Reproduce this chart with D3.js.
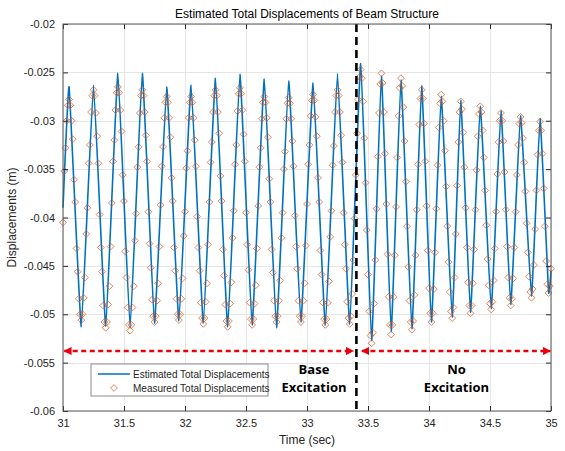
<!DOCTYPE html>
<html>
<head>
<meta charset="utf-8">
<script src="https://cdn.jsdelivr.net/npm/d3@7"></script>
<style>
  html, body { margin: 0; padding: 0; background: #fff; }
  svg { display: block; font-family: "Liberation Sans", Arial, sans-serif; }
</style>
</head>
<body>
<svg id="chart" width="565" height="451"></svg>
<script>
// ---- axis ticks ----
const xTicks = [31, 31.5, 32, 32.5, 33, 33.5, 34, 34.5, 35];
const xTickLabels = ["31", "31.5", "32", "32.5", "33", "33.5", "34", "34.5", "35"];
const yTicks = [-0.06, -0.055, -0.05, -0.045, -0.04, -0.035, -0.03, -0.025, -0.02];
const yTickLabels = ["-0.06", "-0.055", "-0.05", "-0.045", "-0.04", "-0.035", "-0.03", "-0.025", "-0.02"];

// ---- estimated total displacement: turning points of the estimate (s, m) ----
const estTimes = [31.00, 31.05, 31.15, 31.25, 31.35, 31.45, 31.55, 31.65, 31.75, 31.85, 31.95,
  32.05, 32.15, 32.25, 32.35, 32.45, 32.55, 32.65, 32.75, 32.85, 32.95, 33.05, 33.15, 33.25, 33.35,
  33.44, 33.53, 33.61, 33.69, 33.77, 33.86, 33.94, 34.02, 34.10, 34.19, 34.26, 34.34, 34.42, 34.51,
  34.59, 34.67, 34.75, 34.84, 34.91, 34.98, 35.00];
const estValues = [-0.0390, -0.0265, -0.0513, -0.0263, -0.0512, -0.0251, -0.0514, -0.0251, -0.0509, -0.0265, -0.0507,
  -0.0263, -0.0509, -0.0256, -0.0513, -0.0252, -0.0511, -0.0257, -0.0514, -0.0259, -0.0508, -0.0261, -0.0511, -0.0251, -0.0510,
  -0.0241, -0.0527, -0.0254, -0.0518, -0.0258, -0.0515, -0.0264, -0.0508, -0.0275, -0.0503, -0.0279, -0.0498, -0.0285, -0.0494,
  -0.0290, -0.0490, -0.0295, -0.0481, -0.0298, -0.0477, -0.0455];

// ---- measured total displacement, sampled every 0.01 s from 31.00 s ----
const sampleStart = 31.00;
const sampleStep = 0.01;
const measured = [
  -0.0405, -0.0352, -0.0328, -0.0300, -0.0284,
  -0.0278, -0.0284, -0.0300, -0.0319, -0.0361, -0.0384, -0.0432, -0.0456, -0.0484, -0.0500,
  -0.0506, -0.0500, -0.0483, -0.0462, -0.0417, -0.0390, -0.0344, -0.0325, -0.0291, -0.0274,
  -0.0268, -0.0274, -0.0292, -0.0316, -0.0344, -0.0397, -0.0431, -0.0456, -0.0491, -0.0508,
  -0.0514, -0.0508, -0.0490, -0.0471, -0.0430, -0.0385, -0.0342, -0.0320, -0.0289, -0.0271,
  -0.0265, -0.0271, -0.0289, -0.0311, -0.0356, -0.0383, -0.0435, -0.0462, -0.0493, -0.0511,
  -0.0517, -0.0511, -0.0493, -0.0471, -0.0424, -0.0396, -0.0348, -0.0327, -0.0292, -0.0274,
  -0.0268, -0.0274, -0.0291, -0.0315, -0.0342, -0.0394, -0.0427, -0.0452, -0.0485, -0.0502,
  -0.0508, -0.0502, -0.0486, -0.0468, -0.0430, -0.0387, -0.0347, -0.0327, -0.0297, -0.0281,
  -0.0275, -0.0281, -0.0297, -0.0317, -0.0359, -0.0383, -0.0431, -0.0455, -0.0484, -0.0500,
  -0.0506, -0.0500, -0.0484, -0.0463, -0.0419, -0.0394, -0.0349, -0.0331, -0.0297, -0.0281,
  -0.0275, -0.0281, -0.0297, -0.0320, -0.0347, -0.0399, -0.0431, -0.0455, -0.0488, -0.0504,
  -0.0510, -0.0504, -0.0487, -0.0468, -0.0428, -0.0384, -0.0343, -0.0322, -0.0291, -0.0274,
  -0.0268, -0.0274, -0.0291, -0.0313, -0.0357, -0.0383, -0.0433, -0.0460, -0.0490, -0.0507,
  -0.0513, -0.0507, -0.0489, -0.0467, -0.0421, -0.0393, -0.0345, -0.0325, -0.0290, -0.0272,
  -0.0266, -0.0272, -0.0289, -0.0314, -0.0342, -0.0395, -0.0428, -0.0454, -0.0488, -0.0505,
  -0.0511, -0.0505, -0.0489, -0.0470, -0.0432, -0.0388, -0.0348, -0.0328, -0.0298, -0.0281,
  -0.0275, -0.0281, -0.0297, -0.0317, -0.0360, -0.0384, -0.0433, -0.0457, -0.0486, -0.0502,
  -0.0508, -0.0502, -0.0486, -0.0465, -0.0421, -0.0395, -0.0350, -0.0332, -0.0298, -0.0282,
  -0.0276, -0.0282, -0.0298, -0.0321, -0.0347, -0.0398, -0.0430, -0.0453, -0.0486, -0.0502,
  -0.0508, -0.0502, -0.0486, -0.0468, -0.0429, -0.0386, -0.0345, -0.0325, -0.0295, -0.0279,
  -0.0273, -0.0279, -0.0296, -0.0316, -0.0359, -0.0384, -0.0434, -0.0459, -0.0488, -0.0505,
  -0.0511, -0.0505, -0.0488, -0.0466, -0.0420, -0.0393, -0.0346, -0.0326, -0.0291, -0.0274,
  -0.0268, -0.0274, -0.0291, -0.0315, -0.0343, -0.0395, -0.0428, -0.0453, -0.0487, -0.0504,
  -0.0510, -0.0502, -0.0479, -0.0444, -0.0401, -0.0356, -0.0313, -0.0278, -0.0255,
  -0.0247, -0.0256, -0.0280, -0.0318, -0.0364, -0.0413, -0.0459, -0.0497, -0.0522,
  -0.0530, -0.0519, -0.0489, -0.0444, -0.0391, -0.0337, -0.0292, -0.0262,
  -0.0251, -0.0261, -0.0291, -0.0334, -0.0386, -0.0438, -0.0482, -0.0511,
  -0.0521, -0.0511, -0.0482, -0.0439, -0.0389, -0.0338, -0.0295, -0.0266,
  -0.0256, -0.0264, -0.0286, -0.0321, -0.0363, -0.0409, -0.0451, -0.0486, -0.0508,
  -0.0516, -0.0507, -0.0480, -0.0439, -0.0392, -0.0345, -0.0304, -0.0277,
  -0.0268, -0.0277, -0.0303, -0.0342, -0.0388, -0.0434, -0.0473, -0.0499,
  -0.0508, -0.0499, -0.0474, -0.0436, -0.0391, -0.0346, -0.0307, -0.0282,
  -0.0273, -0.0280, -0.0300, -0.0331, -0.0368, -0.0409, -0.0446, -0.0477, -0.0497,
  -0.0504, -0.0493, -0.0462, -0.0417, -0.0367, -0.0322, -0.0291,
  -0.0280, -0.0288, -0.0312, -0.0348, -0.0390, -0.0431, -0.0467, -0.0491,
  -0.0499, -0.0491, -0.0468, -0.0433, -0.0392, -0.0351, -0.0316, -0.0293,
  -0.0285, -0.0291, -0.0310, -0.0338, -0.0372, -0.0408, -0.0443, -0.0470, -0.0489,
  -0.0495, -0.0487, -0.0465, -0.0432, -0.0394, -0.0355, -0.0322, -0.0300,
  -0.0292, -0.0300, -0.0321, -0.0353, -0.0392, -0.0430, -0.0462, -0.0483,
  -0.0491, -0.0484, -0.0463, -0.0431, -0.0394, -0.0356, -0.0325, -0.0303,
  -0.0296, -0.0302, -0.0318, -0.0343, -0.0373, -0.0406, -0.0436, -0.0461, -0.0477,
  -0.0483, -0.0474, -0.0449, -0.0412, -0.0372, -0.0335, -0.0310,
  -0.0301, -0.0310, -0.0334, -0.0370, -0.0409, -0.0445, -0.0469,
  -0.0478, -0.0471, -0.0453
];

// ---- annotations ----
const switchTime = 33.405;                    // excitation switched off
const arrowLevel = -0.0538;
const arrowSpans = [[31.01, 33.38], [33.45, 34.995]];
const regionLabels = [
  { t: 33.057, lines: ["Base", "Excitation"] },
  { t: 34.225, lines: ["No", "Excitation"] }
];
const seriesNames = ["Estimated Total Displacements", "Measured Total Displacements"];

// ---- layout ----
const svg = d3.select("#chart");
const x = d3.scaleLinear().domain([31, 35]).range([63, 551]);
const y = d3.scaleLinear().domain([-0.06, -0.02]).range([411, 24]);
const blue = "#0072BD", orange = "#D95319";
const axisColor = "#262626";

// grid
const grid = svg.append("g").attr("stroke", "#e6e6e6").attr("stroke-width", 1);
grid.selectAll(".gx").data(xTicks).join("line")
  .attr("x1", d => Math.round(x(d)) + 0.5).attr("x2", d => Math.round(x(d)) + 0.5)
  .attr("y1", y(-0.06)).attr("y2", y(-0.02));
grid.selectAll(".gy").data(yTicks).join("line")
  .attr("y1", d => Math.round(y(d)) + 0.5).attr("y2", d => Math.round(y(d)) + 0.5)
  .attr("x1", x(31)).attr("x2", x(35));

// estimated displacement line (sharp-tipped through the turning points)
const line = d3.line()
  .x((d, i) => x(estTimes[i]))
  .y(d => y(d))
  .curve(d3.curveCardinal.tension(0.7));
svg.append("path")
  .datum(estValues)
  .attr("d", line)
  .attr("fill", "none")
  .attr("stroke", blue)
  .attr("stroke-width", 1.6)
  .attr("stroke-linejoin", "round");

// measured displacement markers (hollow diamonds)
const diamond = {
  draw(ctx, size) {
    const r = Math.sqrt(size) / 2;
    ctx.moveTo(0, -r); ctx.lineTo(r, 0); ctx.lineTo(0, r); ctx.lineTo(-r, 0); ctx.closePath();
  }
};
const sym = d3.symbol().type(diamond).size(46);
svg.append("g")
  .selectAll("path")
  .data(measured)
  .join("path")
  .attr("d", sym)
  .attr("transform", (d, i) => `translate(${x(sampleStart + i * sampleStep)},${y(d)})`)
  .attr("fill", "none")
  .attr("stroke", orange)
  .attr("stroke-opacity", 0.8)
  .attr("stroke-width", 0.9);

// excitation switch-off line
svg.append("line")
  .attr("x1", x(switchTime)).attr("x2", x(switchTime))
  .attr("y1", y(-0.02)).attr("y2", y(-0.06))
  .attr("stroke", "#000").attr("stroke-width", 2.6)
  .attr("stroke-dasharray", "8,5");

// double-headed red arrows
const defs = svg.append("defs");
defs.append("marker").attr("id", "ah").attr("viewBox", "0 0 10 10")
  .attr("refX", 9).attr("refY", 5).attr("markerWidth", 3.4).attr("markerHeight", 3.4)
  .attr("markerUnits", "strokeWidth").attr("orient", "auto-start-reverse")
  .append("path").attr("d", "M0,0 L10,5 L0,10 Z").attr("fill", "#e8000b");
svg.append("g").selectAll("line").data(arrowSpans).join("line")
  .attr("x1", d => x(d[0])).attr("x2", d => x(d[1]))
  .attr("y1", y(arrowLevel)).attr("y2", y(arrowLevel))
  .attr("stroke", "#e8000b").attr("stroke-width", 2.4)
  .attr("stroke-dasharray", "5,3.5")
  .attr("marker-start", "url(#ah)").attr("marker-end", "url(#ah)");

// region labels
const rl = svg.append("g").attr("font-family", "'Open Sans', 'Noto Sans', sans-serif")
  .attr("font-weight", "bold").attr("font-size", 13).attr("text-anchor", "middle").attr("fill", "#000");
regionLabels.forEach(r => {
  r.lines.forEach((s, k) => {
    rl.append("text").attr("x", x(r.t)).attr("y", 374 + k * 18).text(s);
  });
});

// axes
const xAxisB = d3.axisBottom(x).tickValues(xTicks).tickFormat((d, i) => xTickLabels[i])
  .tickSizeInner(-5).tickSizeOuter(0).tickPadding(8);
const xAxisT = d3.axisTop(x).tickValues(xTicks).tickFormat("").tickSizeInner(-5).tickSizeOuter(0);
const yAxisL = d3.axisLeft(y).tickValues(yTicks).tickFormat((d, i) => yTickLabels[i])
  .tickSizeInner(-5).tickSizeOuter(0).tickPadding(8);
const yAxisR = d3.axisRight(y).tickValues(yTicks).tickFormat("").tickSizeInner(-5).tickSizeOuter(0);

function styleAxis(g) {
  g.select(".domain").remove();
  g.selectAll("line").attr("stroke", axisColor);
  g.selectAll("text").attr("fill", axisColor).attr("font-size", 11)
    .attr("font-family", "'Liberation Sans', Arial, sans-serif");
}
svg.append("g").attr("transform", `translate(0,${y(-0.06)})`).call(xAxisB).call(styleAxis);
svg.append("g").attr("transform", `translate(0,${y(-0.02)})`).call(xAxisT).call(styleAxis);
svg.append("g").attr("transform", `translate(${x(31)},0)`).call(yAxisL).call(styleAxis);
svg.append("g").attr("transform", `translate(${x(35)},0)`).call(yAxisR).call(styleAxis);

// axes box
svg.append("rect")
  .attr("x", x(31)).attr("y", y(-0.02))
  .attr("width", x(35) - x(31)).attr("height", y(-0.06) - y(-0.02))
  .attr("fill", "none").attr("stroke", "#595959").attr("stroke-width", 1);

// title and axis labels
svg.append("text").attr("x", (x(31) + x(35)) / 2).attr("y", 18)
  .attr("text-anchor", "middle").attr("font-size", 12).attr("fill", "#000")
  .text("Estimated Total Displacements of Beam Structure");
svg.append("text").attr("x", (x(31) + x(35)) / 2).attr("y", 444)
  .attr("text-anchor", "middle").attr("font-size", 12).attr("fill", axisColor)
  .text("Time (sec)");
svg.append("text")
  .attr("transform", `translate(16,${(y(-0.02) + y(-0.06)) / 2}) rotate(-90)`)
  .attr("text-anchor", "middle").attr("font-size", 12).attr("fill", axisColor)
  .text("Displacements (m)");

// legend
const lg = svg.append("g");
lg.append("rect").attr("x", 91).attr("y", 364).attr("width", 177).attr("height", 32)
  .attr("fill", "#fff").attr("stroke", "#8c8c8c").attr("stroke-width", 1);
lg.append("line").attr("x1", 98).attr("x2", 130).attr("y1", 374).attr("y2", 374)
  .attr("stroke", blue).attr("stroke-width", 1.5);
lg.append("path").attr("d", sym).attr("transform", "translate(114,388)")
  .attr("fill", "none").attr("stroke", orange).attr("stroke-opacity", 0.8).attr("stroke-width", 0.9);
lg.selectAll("text").data(seriesNames).join("text")
  .attr("x", 133).attr("y", (d, i) => 378 + i * 14)
  .attr("font-size", 10).attr("fill", axisColor)
  .text(d => d);
</script>
</body>
</html>
